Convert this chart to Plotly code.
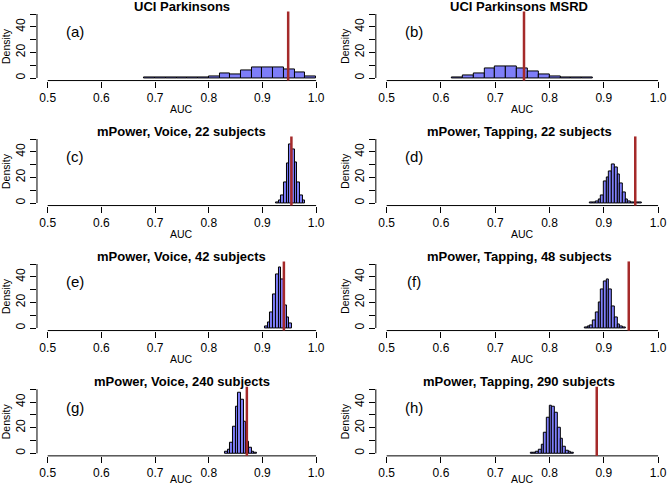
import plotly.graph_objects as go

# ---------------- data ----------------
titles = ["UCI Parkinsons", "UCI Parkinsons MSRD",
          "mPower, Voice, 22 subjects", "mPower, Tapping, 22 subjects",
          "mPower, Voice, 42 subjects", "mPower, Tapping, 48 subjects",
          "mPower, Voice, 240 subjects", "mPower, Tapping, 290 subjects"]
panel_tags = ["(a)", "(b)", "(c)", "(d)", "(e)", "(f)", "(g)", "(h)"]

bin_starts = [0.68, 0.62, 0.925, 0.875, 0.905, 0.865, 0.83, 0.765]
bin_widths = [0.02, 0.02, 0.005, 0.005, 0.005, 0.005, 0.005, 0.005]

dens_a = [0.2, 0.2, 0.2, 0.2, 0.2, 0.8, 1.2, 3.6, 2.9, 5.7, 8.0, 8.0, 8.6, 6.8, 4.2, 1.0]
dens_b = [0.5, 1.8, 3.9, 7.6, 9.1, 9.1, 7.8, 5.5, 3.1, 1.6, 0.8, 0.4, 0.2]
dens_c = [0.8, 2, 6, 16, 31, 46, 42, 32, 16, 6, 2]
dens_d = [0.3, 0.6, 1.2, 2.5, 6, 17, 20, 25, 30, 28, 22, 15, 8, 3, 1.5, 0.8, 0.5, 0.4, 0.2]
dens_e = [1.5, 4, 12, 26, 42, 47, 38, 18, 8, 3.5]
dens_f = [0.5, 1, 2, 6, 12, 20, 30, 36, 38, 30, 17, 8, 3, 1.5, 0.5]
dens_g = [1, 2.5, 8, 21, 36, 47, 42, 25, 9, 4, 1, 0.3]
dens_h = [0.3, 0.5, 1, 3, 7, 16, 28, 37, 36, 32, 20, 11, 5, 2, 1, 0.5]
all_dens = [dens_a, dens_b, dens_c, dens_d, dens_e, dens_f, dens_g, dens_h]

observed_auc = [0.948, 0.753, 0.954, 0.958, 0.940, 0.946, 0.871, 0.887]

x_ticks = [0.5, 0.6, 0.7, 0.8, 0.9, 1.0]
x_tick_labels = ["0.5", "0.6", "0.7", "0.8", "0.9", "1.0"]
y_ticks = [0, 10, 20, 30, 40, 50]
y_tick_labels = ["0", "", "20", "", "40", ""]

# ---------------- layout geometry ----------------
W, H = 667, 487
col_domains = [(37.2 / W, 328.8 / W), (378.1 / W, 1.0)]
col_xranges = [[0.48, 1.02], [0.48, 1.0091]]
row_zero_px = [78, 203, 328, 453.3]
px_per_unit = 1.28
row_domains = []
row_bottom_px = []
for z in row_zero_px:
    top = z - 52 * px_per_unit
    bot = z + 2 * px_per_unit
    row_bottom_px.append(bot)
    row_domains.append((1 - bot / H, 1 - top / H))

FONT = "Liberation Sans, Arial, Helvetica, sans-serif"
BAR_FILL = "#7E7EF8"
RED = "#A52A2A"

fig = go.Figure()
layout = dict(width=W, height=H, margin=dict(l=0, r=0, t=0, b=0),
              paper_bgcolor="white", plot_bgcolor="white", showlegend=False,
              font=dict(family=FONT, color="black"), bargap=0)
annotations = []
shapes = []

for i in range(8):
    n = i + 1
    r, c = divmod(i, 2)
    xa = "x" if n == 1 else f"x{n}"
    ya = "y" if n == 1 else f"y{n}"
    w = bin_widths[i]
    dens = all_dens[i]
    centers = [bin_starts[i] + (k + 0.5) * w for k in range(len(dens))]
    fig.add_trace(go.Bar(x=centers, y=dens, width=[w] * len(dens),
                         marker=dict(color=BAR_FILL, line=dict(color="black", width=1)),
                         xaxis=xa, yaxis=ya, hoverinfo="skip"))
    layout["xaxis" if n == 1 else f"xaxis{n}"] = dict(
        domain=list(col_domains[c]), range=col_xranges[c], anchor=ya,
        tickvals=x_ticks, ticktext=x_tick_labels, ticks="outside", ticklen=6,
        tickwidth=1, tickcolor="black", showgrid=False, zeroline=False,
        showline=False, tickfont=dict(size=12, family=FONT), fixedrange=True,
        ticklabeloverflow="allow")
    layout["yaxis" if n == 1 else f"yaxis{n}"] = dict(
        domain=list(row_domains[r]), range=[-2, 52], anchor=xa,
        tickvals=y_ticks, ticktext=y_tick_labels, ticks="outside", ticklen=6,
        tickwidth=1, tickcolor="black", showgrid=False, zeroline=False,
        showline=False, tickangle=-90, tickfont=dict(size=12, family=FONT),
        fixedrange=True)
    # R-style axis lines spanning first to last tick
    shapes.append(dict(type="line", xref=xa, yref=f"{ya} domain",
                       x0=x_ticks[0], x1=x_ticks[-1], y0=0, y1=0,
                       line=dict(color="black", width=1)))
    shapes.append(dict(type="line", xref=f"{xa} domain", yref=ya,
                       x0=0, x1=0, y0=y_ticks[0], y1=y_ticks[-1],
                       line=dict(color="black", width=1)))
    # observed AUC line
    shapes.append(dict(type="line", xref=xa, yref=f"{ya} domain",
                       x0=observed_auc[i], x1=observed_auc[i], y0=0, y1=1,
                       line=dict(color=RED, width=2.5)))
    # title
    annotations.append(dict(text=f"<b>{titles[i]}</b>", xref=f"{xa} domain",
                            yref=f"{ya} domain", x=0.5, y=1, yshift=5,
                            xanchor="center", yanchor="middle", showarrow=False,
                            font=dict(size=13, family=FONT)))
    # panel tag
    annotations.append(dict(text=panel_tags[i], xref=xa, yref=ya, x=0.55, y=36,
                            xanchor="center", yanchor="middle", showarrow=False,
                            font=dict(size=15, family=FONT)))
    # axis titles (keep the bottom row's label inside the page)
    auc_center = min(row_bottom_px[r] + 28.5, H - 8)
    annotations.append(dict(text="AUC", xref=xa, yref=f"{ya} domain", x=0.75, y=0,
                            yshift=-(auc_center - row_bottom_px[r]),
                            xanchor="center", yanchor="middle",
                            showarrow=False, font=dict(size=10.5, family=FONT)))
    annotations.append(dict(text="Density", xref=f"{xa} domain", yref=f"{ya} domain",
                            x=0, y=0.5, xshift=-31, textangle=-90,
                            xanchor="center", yanchor="middle", showarrow=False,
                            font=dict(size=10.5, family=FONT)))

layout["annotations"] = annotations
layout["shapes"] = shapes
fig.update_layout(**layout)
fig.write_html("out.html", config={"displayModeBar": False},
               post_script="document.body.style.margin='0';document.body.style.overflow='hidden';")
